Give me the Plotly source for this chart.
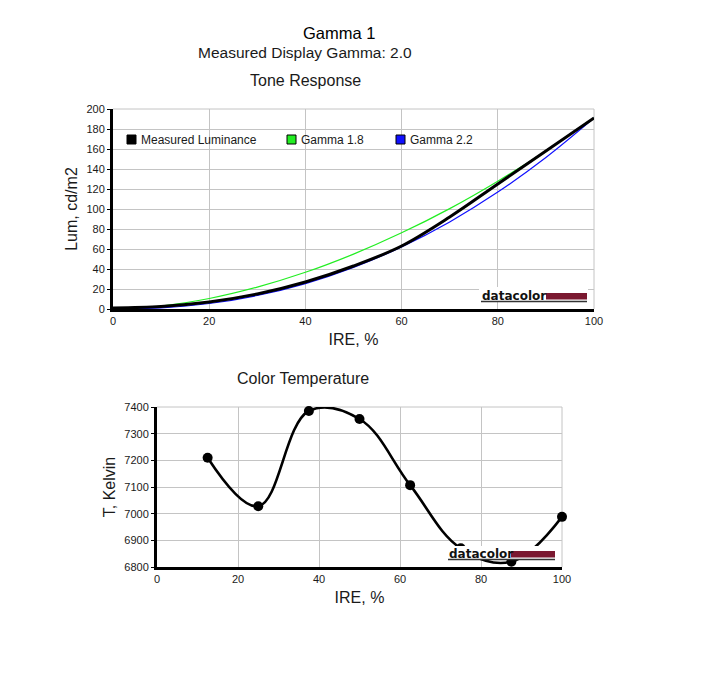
import plotly.graph_objects as go

# page body has an 8px margin; figure sized to fit inside the window
OFF = 8
W, H = 715 - 2 * OFF, 686 - 2 * OFF

# ---------------- data ----------------
ire_tone = [0, 10, 20, 30, 40, 50, 60, 70, 80, 90, 100]
measured_lum = [1.0, 2.5, 7.0, 15.0, 27.0, 43.0, 63.0, 92.0, 125.0, 158.0, 191.0]
gamma18_lum = [0.0, 3.0, 10.5, 21.9, 36.7, 54.9, 76.2, 100.4, 127.8, 158.0, 191.0]
gamma22_lum = [0.0, 1.2, 5.5, 13.5, 25.4, 41.6, 62.1, 87.1, 116.9, 151.5, 191.0]

ire_ct = [12.5, 25, 37.5, 50, 62.5, 75, 87.5, 100]
color_temp = [7210, 7028, 7385, 7355, 7107, 6870, 6820, 6988]

legend_labels = ["Measured Luminance", "Gamma 1.8", "Gamma 2.2"]
legend_colors = ["#000000", "#22ee22", "#1010ff"]

FONT = "Liberation Sans, Arial, sans-serif"
TXT = "#1a1a1a"
GRID = "#c4c4c4"
LOGO = "#7a1830"


def px(x):
    return (x - OFF) / W


def py(y):
    return 1 - (y - OFF) / H


fig = go.Figure()

fig.add_trace(go.Scatter(x=ire_tone, y=gamma18_lum, mode="lines", line=dict(color=legend_colors[1], width=1.2, shape="spline"),
                         xaxis="x", yaxis="y", showlegend=False))
fig.add_trace(go.Scatter(x=ire_tone, y=gamma22_lum, mode="lines", line=dict(color=legend_colors[2], width=1.2, shape="spline"),
                         xaxis="x", yaxis="y", showlegend=False))
fig.add_trace(go.Scatter(x=ire_tone, y=measured_lum, mode="lines", line=dict(color=legend_colors[0], width=3, shape="spline"),
                         xaxis="x", yaxis="y", showlegend=False))

fig.add_trace(go.Scatter(x=ire_ct, y=color_temp, mode="lines+markers",
                         line=dict(color="#000000", width=2.6, shape="spline", smoothing=1.1),
                         marker=dict(color="#000000", size=10),
                         xaxis="x2", yaxis="y2", showlegend=False, cliponaxis=False))

# plot areas (pixels in the reference)
top = dict(x0=113, x1=594, y0=109, y1=309)
bot = dict(x0=157, x1=562, y0=407, y1=567)

base = dict(showgrid=True, gridcolor=GRID, gridwidth=1, zeroline=False,
            showline=True, linecolor="#000000", linewidth=3, automargin=False,
            tickfont=dict(family=FONT, size=11, color=TXT),
            title_font=dict(family=FONT, size=16, color=TXT))
xcommon = dict(base, ticks="")
ycommon = dict(base, ticks="outside", ticklen=3, tickwidth=1, tickcolor="#000000")

fig.update_layout(
    width=W, height=H,
    margin=dict(l=0, r=0, t=0, b=0, pad=0),
    paper_bgcolor="white", plot_bgcolor="white",
    xaxis=dict(domain=[px(top["x0"]), px(top["x1"])], range=[0, 100], dtick=20,
               anchor="y", title=dict(text="IRE, %", standoff=8), **xcommon),
    yaxis=dict(domain=[py(top["y1"]), py(top["y0"])], range=[0, 200], dtick=20,
               anchor="x", title=dict(text="Lum, cd/m2", standoff=5), **ycommon),
    xaxis2=dict(domain=[px(bot["x0"]), px(bot["x1"])], range=[0, 100], dtick=20,
                anchor="y2", title=dict(text="IRE, %", standoff=8), **xcommon),
    yaxis2=dict(domain=[py(bot["y1"]), py(bot["y0"])], range=[6800, 7400], dtick=100,
                anchor="x2", title=dict(text="T, Kelvin", standoff=5), **ycommon),
    showlegend=False,
)

shapes = []
annotations = []

# gray frame top/right
for (xa, ya) in [("x", "y"), ("x2", "y2")]:
    shapes.append(dict(type="line", xref=xa + " domain", yref=ya + " domain", x0=0, x1=1, y0=1, y1=1,
                       line=dict(color=GRID, width=1), layer="below"))
    shapes.append(dict(type="line", xref=xa + " domain", yref=ya + " domain", x0=1, x1=1, y0=0, y1=1,
                       line=dict(color=GRID, width=1), layer="below"))

# titles
annotations += [
    dict(text="Gamma 1", x=px(339), y=py(33), xref="paper", yref="paper", showarrow=False,
         font=dict(family=FONT, size=16.5, color="#000000"), xanchor="center", yanchor="middle"),
    dict(text="Measured Display Gamma: 2.0", x=px(305), y=py(52), xref="paper", yref="paper", showarrow=False,
         font=dict(family=FONT, size=15.5, color=TXT), xanchor="center", yanchor="middle"),
    dict(text="Tone Response", x=px(305), y=py(80), xref="paper", yref="paper", showarrow=False,
         font=dict(family=FONT, size=16, color=TXT), xanchor="center", yanchor="middle"),
    dict(text="Color Temperature", x=px(303), y=py(378), xref="paper", yref="paper", showarrow=False,
         font=dict(family=FONT, size=16, color=TXT), xanchor="center", yanchor="middle"),
]

# legend
leg_x = [127, 287, 396]
for lbl, col, lx in zip(legend_labels, legend_colors, leg_x):
    shapes.append(dict(type="rect", xref="paper", yref="paper", x0=px(lx), x1=px(lx + 9),
                       y0=py(144), y1=py(135), fillcolor=col, line=dict(color="#000000", width=1)))
    annotations.append(dict(text=lbl, x=px(lx + 12), y=py(139.5), xref="paper", yref="paper", showarrow=False,
                            xanchor="left", yanchor="middle", font=dict(family=FONT, size=12, color=TXT)))


# datacolor logos
def logo(tx0, tx1, bx1, cy, bg_top, bg_bot):
    shapes.append(dict(type="rect", xref="paper", yref="paper", x0=px(tx0 - 2), x1=px(bx1 + 1),
                       y0=py(bg_bot), y1=py(bg_top), fillcolor="white", line=dict(width=0), layer="above"))
    shapes.append(dict(type="rect", xref="paper", yref="paper", x0=px(tx1 + 1), x1=px(bx1),
                       y0=py(cy + 3.5), y1=py(cy - 3), fillcolor=LOGO, line=dict(width=0), layer="above"))
    shapes.append(dict(type="line", xref="paper", yref="paper", x0=px(tx0), x1=px(bx1),
                       y0=py(cy + 5.5), y1=py(cy + 5.5), line=dict(color="#333333", width=1.3), layer="above"))
    annotations.append(dict(text="<b>datacolor</b>", x=px(tx0 - 1), y=py(cy - 0.5), xref="paper", yref="paper",
                            showarrow=False, xanchor="left", yanchor="middle",
                            font=dict(family="DejaVu Sans, sans-serif", size=12, color="#111111")))


logo(481, 545, 587, 296, 287, 302)
logo(448, 510, 555, 554, 546, 560)

fig.update_layout(shapes=shapes, annotations=annotations)

fig.write_html("out.html")
